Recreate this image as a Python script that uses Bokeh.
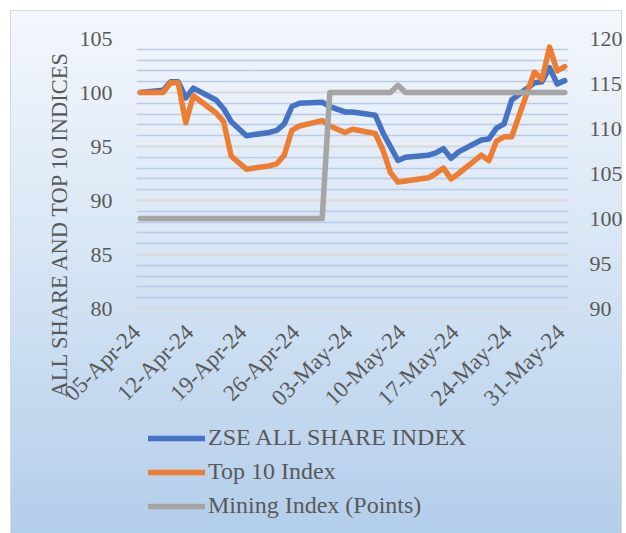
import math
import pandas as pd
from bokeh.plotting import figure
from bokeh.layouts import column
from bokeh.models import Range1d, LinearAxis, FixedTicker, Legend, LegendItem, Title
from bokeh.embed import file_html
from bokeh.resources import INLINE

# ---------------- data ----------------
dates = ["2024-04-05", "2024-04-08", "2024-04-09", "2024-04-10", "2024-04-11", "2024-04-12",
         "2024-04-15", "2024-04-16", "2024-04-17", "2024-04-19",
         "2024-04-22", "2024-04-23", "2024-04-24", "2024-04-25", "2024-04-26",
         "2024-04-29", "2024-04-30", "2024-05-02", "2024-05-03",
         "2024-05-06", "2024-05-07", "2024-05-08", "2024-05-09", "2024-05-10",
         "2024-05-13", "2024-05-14", "2024-05-15", "2024-05-16", "2024-05-17",
         "2024-05-20", "2024-05-21", "2024-05-22", "2024-05-23", "2024-05-24",
         "2024-05-27", "2024-05-28", "2024-05-29", "2024-05-30", "2024-05-31"]
zse_all_share = [100.0, 100.2, 101.0, 101.0, 99.5, 100.4,
                 99.3, 98.5, 97.3, 96.0,
                 96.3, 96.5, 97.1, 98.7, 99.0,
                 99.1, 98.7, 98.2, 98.2,
                 97.9, 96.3, 95.0, 93.7, 94.0,
                 94.2, 94.4, 94.8, 93.9, 94.5,
                 95.6, 95.7, 96.7, 97.1, 99.3,
                 100.9, 101.0, 102.3, 100.8, 101.1]
top10 = [100.0, 100.0, 100.9, 100.9, 97.2, 99.7,
         98.1, 97.3, 94.1, 92.9,
         93.2, 93.4, 94.2, 96.5, 96.9,
         97.4, 96.9, 96.3, 96.6,
         96.2, 94.7, 92.6, 91.7, 91.8,
         92.1, 92.5, 93.0, 92.0, 92.5,
         94.2, 93.7, 95.5, 95.9, 95.9,
         101.9, 101.2, 104.2, 102.0, 102.4]
mining = [100, 100, 100, 100, 100, 100,
          100, 100, 100, 100,
          100, 100, 100, 100, 100,
          100, 114, 114, 114,
          114, 114, 114, 114.8, 114,
          114, 114, 114, 114, 114,
          114, 114, 114, 114, 114,
          114, 114, 114, 114, 114]
x_tick_labels = ["05-Apr-24", "12-Apr-24", "19-Apr-24", "26-Apr-24", "03-May-24",
                 "10-May-24", "17-May-24", "24-May-24", "31-May-24"]
left_ticks = [80, 85, 90, 95, 100, 105]
right_ticks = [90, 95, 100, 105, 110, 115, 120]
series_names = ["ZSE ALL SHARE INDEX", "Top 10 Index", "Mining Index (Points)"]
series_colors = ["#4472C4", "#ED7D31", "#A5A5A5"]
axis_title = "ALL SHARE AND TOP 10 INDICES"

# ---------------- derived positions (days from first date) ----------------
start = pd.Timestamp(dates[0])
xs = [(pd.Timestamp(d) - start).days + 0.5 for d in dates]
tick_pos = [(pd.to_datetime(t, format="%d-%b-%y") - start).days for t in x_tick_labels]
x_end = (pd.Timestamp(dates[-1]) - start).days + 1
minor_left = [v for v in range(left_ticks[0], left_ticks[-1] + 1) if v not in left_ticks]

FONT = "Liberation Serif"
TXT = "#595959"
LW = 5.5

p = figure(width=626, height=424, output_backend="svg", toolbar_location=None,
           x_range=Range1d(0, x_end), y_range=Range1d(left_ticks[0], left_ticks[-1]),
           min_border_left=136, min_border_right=58, min_border_top=38, min_border_bottom=116)
p.border_fill_color = None
p.background_fill_color = None
p.outline_line_color = None

# x axis
p.xaxis.ticker = FixedTicker(ticks=tick_pos)
p.xaxis.major_label_overrides = {tp: lab for tp, lab in zip(tick_pos, x_tick_labels)}
p.xaxis.major_label_orientation = math.pi / 4
p.xaxis.axis_line_color = "#D9D9D9"
p.xaxis.axis_line_width = 1.5
p.xaxis.major_tick_line_color = "#D9D9D9"
p.xaxis.major_tick_line_width = 1.5
p.xaxis.major_tick_out = 6
p.xaxis.major_tick_in = 0
p.xaxis.minor_tick_line_color = None
p.xaxis.major_label_standoff = 14
p.xgrid.visible = False

# left axis
p.yaxis.ticker = FixedTicker(ticks=left_ticks, minor_ticks=minor_left)
p.yaxis.axis_line_color = None
p.yaxis.major_tick_line_color = None
p.yaxis.minor_tick_line_color = None
p.yaxis.major_tick_out = 0
p.yaxis.major_label_standoff = 20
p.ygrid.grid_line_color = "#D9D9D9"
p.ygrid.grid_line_width = 2
p.ygrid.minor_grid_line_color = "#B4C6E7"
p.ygrid.minor_grid_line_width = 1.5
p.ygrid.minor_grid_line_alpha = 0.9

# right axis
p.extra_y_ranges = {"right": Range1d(right_ticks[0], right_ticks[-1])}
rax = LinearAxis(y_range_name="right", ticker=FixedTicker(ticks=right_ticks))
rax.axis_line_color = None
rax.major_tick_line_color = None
rax.minor_tick_line_color = None
rax.major_tick_out = 0
rax.major_label_standoff = 21
p.add_layout(rax, "right")

for ax in [p.yaxis[0], rax]:
    ax.major_label_text_font = FONT
    ax.major_label_text_font_size = "22px"
    ax.major_label_text_color = TXT
p.xaxis.major_label_text_font = FONT
p.xaxis.major_label_text_font_size = "23px"
p.xaxis.major_label_text_color = TXT

# vertical axis title, started below the plot frame as Excel does
ytitle = Title(text=axis_title, align="left", offset=-89, standoff=10,
               text_font=FONT, text_font_size="22.5px", text_font_style="normal",
               text_color=TXT)
p.add_layout(ytitle, "left")

# series
p.line(xs, zse_all_share, line_width=LW, color=series_colors[0], line_join="round", line_cap="round")
p.line(xs, top10, line_width=LW, color=series_colors[1], line_join="round", line_cap="round")
p.line(xs, mining, line_width=LW, color=series_colors[2], line_join="round", line_cap="round",
       y_range_name="right")

# ---------------- legend strip below the chart ----------------
p2 = figure(width=626, height=109, output_backend="svg", toolbar_location=None,
            x_range=Range1d(-1000, -999), y_range=Range1d(-1000, -999),
            min_border_left=0, min_border_right=0, min_border_top=0, min_border_bottom=0)
p2.border_fill_color = None
p2.background_fill_color = None
p2.outline_line_color = None
p2.axis.visible = False
p2.grid.visible = False
items = []
for name, col, ys in zip(series_names, series_colors, [zse_all_share, top10, mining]):
    rr = p2.line(xs, ys, line_width=LW, color=col, line_cap="round")
    items.append(LegendItem(label=name, renderers=[rr]))
legend = Legend(items=items, location=(12, 14))
legend.label_text_font = FONT
legend.label_text_font_size = "24px"
legend.label_text_color = TXT
legend.glyph_width = 57
legend.glyph_height = 24
legend.label_height = 24
legend.spacing = 7
legend.padding = 0
legend.margin = 0
legend.label_standoff = 3
legend.background_fill_alpha = 0
legend.border_line_alpha = 0
p2.add_layout(legend)

layout = column(p, p2, spacing=0)
layout.styles = {
    "background": ("linear-gradient(to bottom, #F4F7FC 0%, #D8E6F5 45%, #B3CEEA 100%) "
                   "11px 11px / 610px 523px no-repeat, "
                   "linear-gradient(#D9D9D9, #D9D9D9) 10px 10px / 612px 525px no-repeat, #FFFFFF"),
}

open("out.html", "w").write(file_html(layout, INLINE))
